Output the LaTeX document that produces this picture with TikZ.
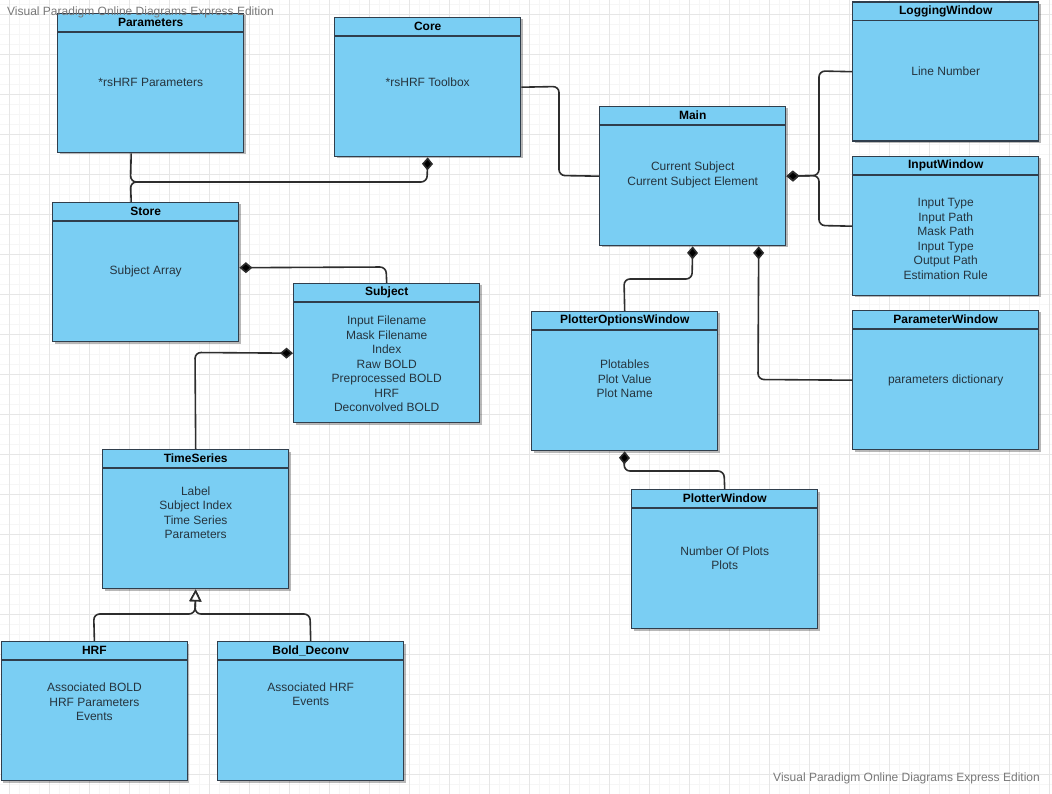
\documentclass[tikz,border=0pt]{standalone}
\usepackage{fontspec}
\setmainfont{Liberation Sans}
\usetikzlibrary{arrows.meta,shadows,calc}
\definecolor{vpblue}{RGB}{122,206,243}
\definecolor{vpborder}{RGB}{48,62,76}
\definecolor{vptext}{RGB}{38,52,62}
\definecolor{vpline}{RGB}{45,45,45}
\definecolor{gridmajor}{RGB}{230,230,230}
\definecolor{gridminor}{RGB}{246,246,246}
\definecolor{wmgray}{RGB}{120,120,120}
\tikzset{
  umlbox/.style={draw=vpborder, line width=1.4pt, fill=vpblue, minimum width=186pt, minimum height=139pt, inner sep=0pt,
    drop shadow={shadow xshift=1.8pt, shadow yshift=-1.8pt, opacity=0.28, fill=black}},
  umlborder/.style={draw=vpborder, line width=1.4pt},
  umltitle/.style={font=\bfseries\fontsize{12}{14}\selectfont, text=black, inner sep=0pt},
  umlbody/.style={font=\fontsize{12}{14.5}\selectfont, text=vptext, align=center, inner sep=0pt},
  conn/.style={draw=vpline, line width=1.6pt, rounded corners=6pt},
  comp/.style={conn, {Diamond[fill=black, length=13pt, width=11pt]}-},
  gen/.style={conn, -{Triangle[open, fill=white, length=12pt, width=12pt]}},
  watermark/.style={font=\fontsize{12}{14}\selectfont, text=wmgray, inner sep=0pt},
}
\newcommand\umlclass[6]{%
  \node[umlbox, anchor=north west] (#1) at (#2,#3) {};
  \draw[umlborder] ([yshift=-19pt]#1.north west) -- ([yshift=-19pt]#1.north east);
  \node[umltitle] (#1-t) at ([yshift=-9.5pt]#1.north) {#4};
  \node[umlbody] (#1-b) at ($(#1.north)+(0,#6-#3)$) {#5};
}
\begin{document}
\begin{tikzpicture}[x=1pt,y=-1pt]
\useasboundingbox (0,0) rectangle (1052,794);
\fill[white] (0,0) rectangle (1052,794);
% grid
\foreach \x in {9.3,19.3,...,1052} \draw[gridminor, line width=0.6pt] (\x,0) -- (\x,794);
\foreach \y in {4.7,14.7,...,794} \draw[gridminor, line width=0.6pt] (0,\y) -- (1052,\y);
\foreach \x in {9.3,49.3,...,1052} \draw[gridmajor, line width=0.8pt] (\x,0) -- (\x,794);
\foreach \y in {14.7,54.7,...,794} \draw[gridmajor, line width=0.8pt] (0,\y) -- (1052,\y);

\coordinate (j1) at (200,182);

% classes
\umlclass{params}{57}{13}{Parameters}{*rsHRF Parameters}{82}
\umlclass{core}{334}{17}{Core}{*rsHRF Toolbox}{82}
\umlclass{log}{852}{1.5}{LoggingWindow}{Line Number}{71}
\umlclass{input}{852}{156}{InputWindow}{Input Type\\Input Path\\Mask Path\\Input Type\\Output Path\\Estimation Rule}{239}
\umlclass{main}{599}{106}{Main}{Current Subject\\Current Subject Element}{175}
\umlclass{store}{52}{202}{Store}{Subject Array}{271}
\umlclass{subject}{293}{283}{Subject}{Input Filename\\Mask Filename\\Index\\Raw BOLD\\Preprocessed BOLD\\HRF\\Deconvolved BOLD}{364}
\umlclass{pow}{531}{311}{PlotterOptionsWindow}{Plotables\\Plot Value\\Plot Name}{379}
\umlclass{paramw}{852}{310}{ParameterWindow}{parameters dictionary}{380}
\umlclass{pw}{631}{489}{PlotterWindow}{Number Of Plots\\Plots}{558}
\umlclass{ts}{102}{449}{TimeSeries}{Label\\Subject Index\\Time Series\\Parameters}{512.5}
\umlclass{hrf}{0.7}{641}{HRF}{Associated BOLD\\HRF Parameters\\Events}{702}
\umlclass{bd}{217}{641}{Bold\_Deconv}{Associated HRF\\Events}{694}

% connectors
\draw[comp] (core.south) -- (427,182) -- (130.5,182) -- ([xshift=-19.5pt]params.south);
\draw[conn] ([xshift=-14.5pt]store.north) -- (130.5,182) -- (j1);
\draw[conn] (core.east) -- (559,86.5) -- (559,175.5) -- (main.west);
\draw[comp] (main.east) -- (819,175.5) -- (819,71) -- (log.west);
\draw[comp] (main.east) -- (819,175.5) -- (819,225.5) -- (input.west);
\draw[comp] (main.south) -- (692,279) -- (624,279) -- (pow.north);
\draw[comp] ([xshift=66pt]main.south) -- (758,379.5) -- (paramw.west);
\draw[comp] (pow.south) -- (624,471) -- (724,471) -- (pw.north);
\draw[comp] ([yshift=4.5pt]store.east) -- (386,267) -- (subject.north);
\draw[comp] (subject.west) -- (195,352.5) -- (ts.north);
\draw[gen] (hrf.north) -- (93.7,614) -- (195,614) -- (ts.south);
\draw[gen] (bd.north) -- (310,614) -- (195,614) -- (ts.south);

% watermarks
\node[watermark, anchor=west] (wm1) at (7,12) {Visual Paradigm Online Diagrams Express Edition};
\node[watermark, anchor=east] (wm2) at (1040,778) {Visual Paradigm Online Diagrams Express Edition};
\end{tikzpicture}
\end{document}
